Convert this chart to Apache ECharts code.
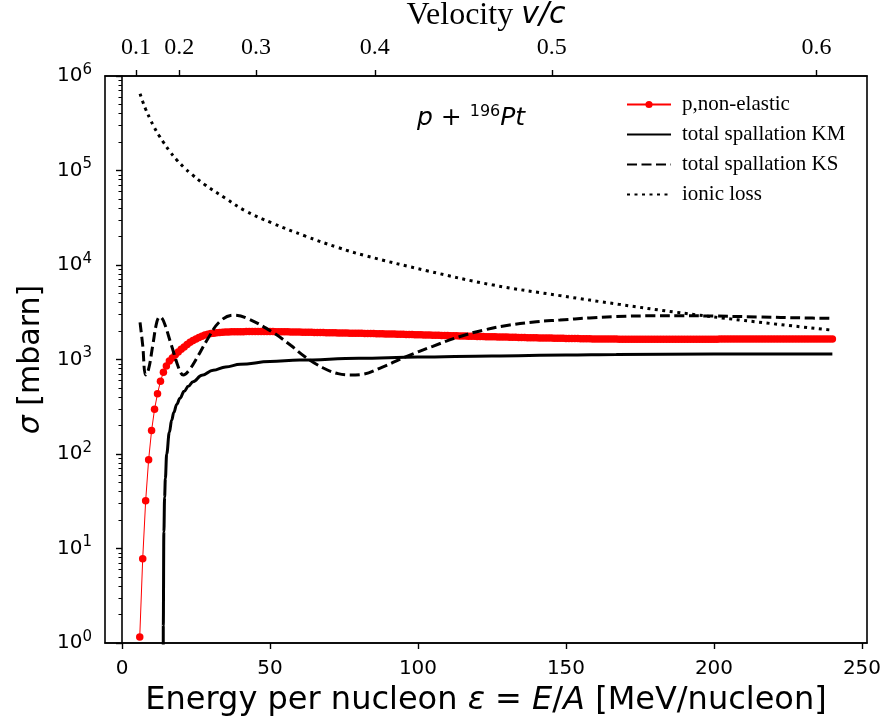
<!DOCTYPE html>
<html>
<head>
<meta charset="utf-8">
<script src="https://cdn.jsdelivr.net/npm/echarts@6/dist/echarts.min.js"></script>
<style>
html,body{margin:0;padding:0;background:#fff;}
#chart{width:883px;height:720px;}
</style>
</head>
<body>
<div id="chart"></div>
<script>
// ---------- data ----------
const xMin = -5.74, xMax = 251.7;
const yMin = 1, yMax = 1e6;

// p, non-elastic (MeV/nucleon, mbarn)
const redE = [
6,7,8,9,10,11,12,13,14,15,16,17,18,19,20,21,22,23,24,25,
26,27,28,29,30,31,32,33,34,35,36,37,38,39,40,41,42,43,44,45,
46,47,48,49,50,51,52,53,54,55,56,57,58,59,60,61,62,63,64,65,
66,67,68,69,70,71,72,73,74,75,76,77,78,79,80,81,82,83,84,85,
86,87,88,89,90,91,92,93,94,95,96,97,98,99,100,101,102,103,104,105,
106,107,108,109,110,111,112,113,114,115,116,117,118,119,120,121,122,123,124,125,
126,127,128,129,130,131,132,133,134,135,136,137,138,139,140,141,142,143,144,145,
146,147,148,149,150,151,152,153,154,155,156,157,158,159,160,161,162,163,164,165,
166,167,168,169,170,171,172,173,174,175,176,177,178,179,180,181,182,183,184,185,
186,187,188,189,190,191,192,193,194,195,196,197,198,199,200,201,202,203,204,205,
206,207,208,209,210,211,212,213,214,215,216,217,218,219,220,221,222,223,224,225,
226,227,228,229,230,231,232,233,234,235,236,237,238,239,240];
const redSigma = [
1.16,7.8,32,87,177,298,435,589,733,853,963,1040,1120,1200,1280,1360,1440,1520,1590,1650,
1710,1765,1815,1850,1880,1900,1918,1932,1943,1951,1957,1962,1966,1969,1971,1972,1973,1974,1974,1975,
1975,1975,1975,1975,1974,1973,1972,1970,1968,1966,1963,1960,1957,1953,1950,1947,1944,1941,1938,1935,
1932,1929,1926,1923,1920,1917,1914,1911,1908,1905,1902,1899,1896,1893,1895,1892,1889,1886,1883,1880,
1876,1873,1870,1866,1863,1860,1856,1853,1850,1846,1843,1840,1836,1833,1830,1826,1822,1818,1815,1811,
1807,1803,1800,1796,1792,1788,1785,1781,1777,1773,1770,1766,1762,1758,1755,1752,1749,1746,1743,1740,
1737,1734,1731,1728,1725,1722,1719,1716,1713,1710,1707,1704,1701,1698,1695,1693,1691,1688,1686,1684,
1682,1679,1677,1675,1673,1670,1668,1666,1664,1661,1659,1657,1655,1652,1650,1649,1648,1647,1646,1645,
1644,1643,1642,1641,1640,1639,1638,1637,1636,1635,1635,1635,1635,1636,1636,1636,1636,1637,1637,1637,
1637,1637,1638,1638,1638,1638,1639,1639,1640,1640,1640,1641,1641,1642,1642,1642,1643,1643,1644,1644,
1644,1645,1645,1645,1645,1646,1646,1646,1646,1646,1647,1647,1647,1647,1647,1648,1648,1648,1648,1648,
1648,1649,1649,1649,1649,1649,1649,1650,1650,1650,1650,1650,1650,1650,1650];

// total spallation KM
const kmE = [13.93,13.95,14.15,14.4,14.65,15.1,16,16.8,17.5,18.5,19.6,21,22.4,24,27,30.8,35,40,50,60,80,100,125,150,167,200,240];
const kmSigma = [0.001,1.5,15,35,55,100,170,229,275,335,389,460,520,582,680,770,835,890,950,985,1030,1060,1090,1115,1130,1140,1145];

// total spallation KS
const ksE = [6.1,7,8,9,10.4,11.8,12.8,14,16.7,19.4,20.7,22.5,25,29,33,37.6,42,50.6,57,61.8,68,73,77,80.4,88,96,105,114,122,131,140,148,158,167,180,190,200,215,230,240];
const ksSigma = [2470,1413,686,794,1413,2512,2831,2570,1413,776,686,759,1000,1660,2512,2951,2754,1968,1413,1072,813,708,686,692,832,1072,1380,1742,2042,2317,2512,2618,2754,2851,2897,2897,2884,2818,2754,2723];

// ionic loss
const ionE = [6.1,7,8,9.5,11,12.5,14,16,18.5,21,23.5,28,35,41.5,50.6,62,73,82,103,125,148,168,187,210,239.5];
const ionSigma = [650000,537000,445000,350000,283000,235000,199000,162000,129500,107500,91500,70800,50700,37700,27900,20200,15300,12600,8700,6170,4740,3830,3170,2590,2050];

// top axis: velocity v/c ticks (energy positions)
const velTickE = [4.73,19.35,45.3,85.4,145.2,234.6];
const velTickLabels = ['0.1','0.2','0.3','0.4','0.5','0.6'];

const xTicks = [0,50,100,150,200,250];
const yMinorTicks = [];
[1,10,100,1000,10000,100000].forEach(d => { for (let k = 2; k <= 9; k++) yMinorTicks.push(d*k); });

const seriesNames = ['p,non-elastic','total spallation KM','total spallation KS','ionic loss'];

function pairs(a, b) { return a.map((v, i) => [v, b[i]]); }

// ---------- chart ----------
const chart = echarts.init(document.getElementById('chart'), null, {renderer: 'canvas'});
const sans = 'DejaVu Sans';
const serif = 'Liberation Serif';

const option = {
  animation: false,
  backgroundColor: '#fff',
  grid: {left: 105, right: 16, top: 76, bottom: 77, show: true, borderColor: '#000', borderWidth: 1.6,
         backgroundColor: 'transparent', containLabel: false, outerBoundsMode: 'none'},
  legend: {
    data: [
      {name: seriesNames[0]},
      {name: seriesNames[1], itemStyle: {opacity: 0}},
      {name: seriesNames[2], itemStyle: {opacity: 0}},
      {name: seriesNames[3], itemStyle: {opacity: 0}}
    ],
    orient: 'vertical',
    left: 621, top: 89,
    itemWidth: 44, itemHeight: 9, itemGap: 9,
    textStyle: {fontFamily: serif, fontSize: 21, color: '#000', padding: [0,0,0,6]}
  },
  graphic: [{
    type: 'text',
    left: 417, top: 104,
    style: {
      text: '{i|p }{n|+ }{s|196}{i|Pt}',
      rich: {
        i: {fontFamily: sans, fontStyle: 'italic', fontSize: 25, fill: '#000'},
        n: {fontFamily: sans, fontSize: 25, fill: '#000'},
        s: {fontFamily: sans, fontSize: 16, fill: '#000', verticalAlign: 'bottom', padding: [0,0,13,0]}
      }
    }
  }],
  xAxis: [{
    type: 'value', min: xMin, max: xMax, position: 'bottom',
    name: 'Energy per nucleon {i|ε} = {i|E}/{i|A} [MeV/nucleon]',
    nameLocation: 'middle', nameGap: 42,
    nameTextStyle: {fontFamily: sans, fontSize: 32, color: '#000',
      rich: {i: {fontFamily: sans, fontStyle: 'italic', fontSize: 32, color: '#000'}}},
    axisLine: {show: true, onZero: false, lineStyle: {color: '#000', width: 1.6}},
    axisTick: {show: true, length: 6, lineStyle: {color: '#000', width: 1.4}, customValues: xTicks},
    axisLabel: {show: true, fontFamily: sans, fontSize: 20, color: '#000', margin: 16, customValues: xTicks},
    splitLine: {show: false}
  }, {
    type: 'value', min: xMin, max: xMax, position: 'top',
    name: '{n|Velocity }{i|v/c}',
    nameLocation: 'middle', nameGap: 37,
    nameTextStyle: {fontFamily: serif, fontSize: 32, color: '#000',
      rich: {n: {fontFamily: serif, fontSize: 32, color: '#000'},
             i: {fontFamily: sans, fontStyle: 'italic', fontSize: 30, color: '#000'}}},
    axisLine: {show: true, onZero: false, lineStyle: {color: '#000', width: 1.6}},
    axisTick: {show: true, length: 6, lineStyle: {color: '#000', width: 1.4}, customValues: velTickE},
    axisLabel: {show: true, fontFamily: serif, fontSize: 24, color: '#000', margin: 16, customValues: velTickE,
      formatter: function (v) {
        let best = 0;
        velTickE.forEach((e, i) => { if (Math.abs(e - v) < Math.abs(velTickE[best] - v)) best = i; });
        return velTickLabels[best];
      }},
    splitLine: {show: false}
  }],
  yAxis: [{
    type: 'log', logBase: 10, min: yMin, max: yMax, position: 'left',
    name: '{i|σ} [mbarn]',
    nameLocation: 'middle', nameGap: 56, nameRotate: 90,
    nameTextStyle: {fontFamily: sans, fontSize: 30, color: '#000',
      rich: {i: {fontFamily: sans, fontStyle: 'italic', fontSize: 30, color: '#000'}}},
    axisLine: {show: true, lineStyle: {color: '#000', width: 1.6}},
    axisTick: {show: true, length: 6, lineStyle: {color: '#000', width: 1.4}},
    axisLabel: {show: true, margin: 13, color: '#000',
      formatter: function (v) { return '{b|10}{s|' + Math.round(Math.log10(v)) + '}'; },
      rich: {
        b: {fontFamily: sans, fontSize: 20, color: '#000'},
        s: {fontFamily: sans, fontSize: 15, color: '#000', verticalAlign: 'bottom', padding: [0,0,12,0]}
      }},
    splitLine: {show: false}
  }, {
    type: 'log', logBase: 10, min: yMin, max: yMax, position: 'left',
    axisLine: {show: false},
    axisTick: {show: true, length: 3.5, lineStyle: {color: '#000', width: 1}, customValues: yMinorTicks},
    axisLabel: {show: false},
    splitLine: {show: false}
  }],
  series: [{
    name: seriesNames[0], type: 'line', xAxisIndex: 0, yAxisIndex: 0,
    data: pairs(redE, redSigma),
    symbol: 'circle', symbolSize: 7.5, showSymbol: true,
    lineStyle: {color: '#ff0000', width: 1},
    itemStyle: {color: '#ff0000', borderWidth: 0},
    z: 2, clip: true
  }, {
    name: seriesNames[1], type: 'line', xAxisIndex: 0, yAxisIndex: 0,
    data: pairs(kmE, kmSigma),
    symbol: 'none', smooth: 0.4, smoothMonotone: 'x',
    lineStyle: {color: '#000', width: 3},
    itemStyle: {color: '#000'},
    z: 3, clip: true
  }, {
    name: seriesNames[2], type: 'line', xAxisIndex: 0, yAxisIndex: 0,
    data: pairs(ksE, ksSigma),
    symbol: 'none', smooth: 0.4,
    lineStyle: {color: '#000', width: 3, type: [10, 4.5]},
    itemStyle: {color: '#000'},
    z: 4, clip: true
  }, {
    name: seriesNames[3], type: 'line', xAxisIndex: 0, yAxisIndex: 0,
    data: pairs(ionE, ionSigma),
    symbol: 'none', smooth: 0.4,
    lineStyle: {color: '#000', width: 3, type: [3, 4.5]},
    itemStyle: {color: '#000'},
    z: 5, clip: true
  }]
};
chart.setOption(option);
</script>
</body>
</html>
